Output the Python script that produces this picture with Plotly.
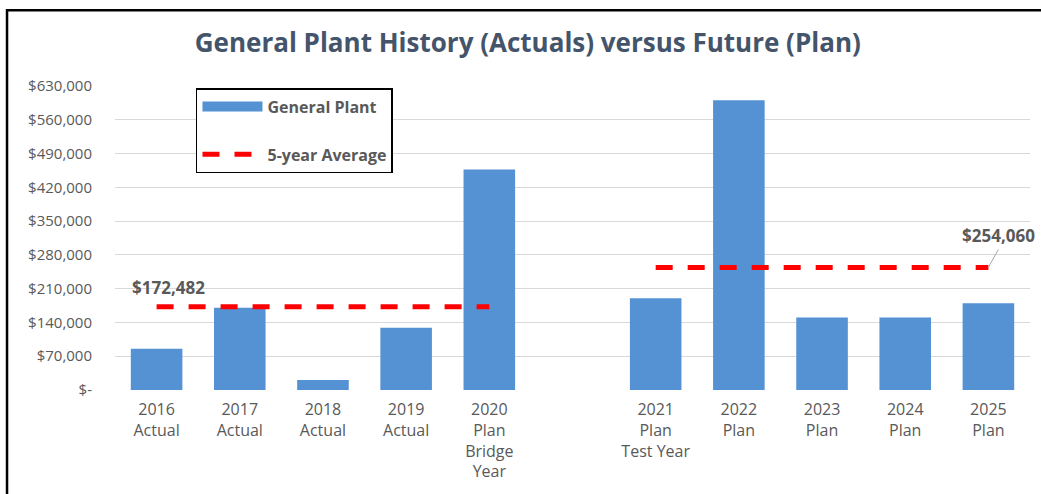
import plotly.graph_objects as go

# categories (blank slot separates history from plan)
categories = [
    "2016<br>Actual", "2017<br>Actual", "2018<br>Actual", "2019<br>Actual",
    "2020<br>Plan<br>Bridge<br>Year", " ",
    "2021<br>Plan<br>Test Year", "2022<br>Plan", "2023<br>Plan", "2024<br>Plan", "2025<br>Plan",
]
general_plant = [85500, 170500, 20500, 129000, 456900, None,
                 190000, 600500, 150000, 150000, 179800]

history_cats = categories[:5]
plan_cats = categories[6:]
history_avg = 172482
plan_avg = 254060

y_ticks = [0, 70000, 140000, 210000, 280000, 350000, 420000, 490000, 560000, 630000]
y_ticktext = ["$-"] + [f"${v:,.0f}" for v in y_ticks[1:]]

BAR_COLOR = "#5592D4"
LINE_COLOR = "#FF0000"
TEXT_COLOR = "#595959"
TITLE_COLOR = "#44546A"
FONT = "Open Sans"
DASH = "17px,15px"

fig = go.Figure()

fig.add_trace(go.Bar(
    x=categories, y=general_plant, name="General Plant",
    marker=dict(color=BAR_COLOR, line=dict(width=0)),
    showlegend=False,
))

# legend-only entry so the swatch is a wide bar like the original
fig.add_trace(go.Scatter(
    x=[None], y=[None], mode="lines", name="<b>General Plant</b>",
    line=dict(color=BAR_COLOR, width=10),
    legendgroup="a",
))

fig.add_trace(go.Scatter(
    x=[history_cats[0], history_cats[-1]], y=[history_avg, history_avg],
    mode="lines", name="<b>5-year Average</b>",
    line=dict(color=LINE_COLOR, width=5, dash=DASH),
    legendgroup="b",
))
fig.add_trace(go.Scatter(
    x=[plan_cats[0], plan_cats[-1]], y=[plan_avg, plan_avg],
    mode="lines", name="5-year Average", showlegend=False,
    line=dict(color=LINE_COLOR, width=5, dash=DASH),
    legendgroup="b",
))

fig.add_annotation(
    x=history_cats[0], y=history_avg, text=f"<b>${history_avg:,.0f}</b>",
    showarrow=False, xanchor="center", yanchor="bottom", xshift=12, yshift=6,
    font=dict(size=17, color=TEXT_COLOR, family=FONT),
)
fig.add_annotation(
    x=plan_cats[-1], y=plan_avg, text=f"<b>${plan_avg:,.0f}</b>",
    showarrow=True, arrowhead=0, arrowwidth=1, arrowcolor="#A6A6A6",
    ax=10, ay=-18, xanchor="center", yanchor="bottom",
    font=dict(size=17, color=TEXT_COLOR, family=FONT),
)

# outer chart frame (right and bottom edges fall outside the view)
fig.add_shape(
    type="rect", xref="paper", yref="paper",
    x0=-0.118, x1=1.03, y0=-0.4, y1=1.245,
    line=dict(color="black", width=2.5), layer="below",
)

fig.update_layout(
    width=1041, height=494,
    margin=dict(l=115, r=11, t=85, b=104),
    paper_bgcolor="white", plot_bgcolor="white",
    title=dict(
        text="<b>General Plant History (Actuals) versus Future (Plan)</b>",
        x=0.507, xref="container", xanchor="center", y=0.913, yanchor="middle",
        font=dict(size=26, color=TITLE_COLOR, family=FONT),
    ),
    bargap=0.38,
    font=dict(family=FONT, color=TEXT_COLOR),
    legend=dict(
        x=0.0885, y=0.99, xanchor="left", yanchor="top",
        bordercolor="black", borderwidth=1.5, bgcolor="white",
        font=dict(size=16, color=TEXT_COLOR, family=FONT),
        tracegroupgap=24, traceorder="grouped",
        itemwidth=60,
    ),
)
fig.update_xaxes(
    type="category", categoryorder="array", categoryarray=categories,
    range=[-0.5, len(categories) - 0.5],
    showgrid=False, showline=False, ticks="",
    tickfont=dict(size=16, color=TEXT_COLOR), ticklabelstandoff=8,
)
fig.update_yaxes(
    range=[0, 632000], tickvals=y_ticks, ticktext=y_ticktext,
    showgrid=True, gridcolor="#D9D9D9", gridwidth=1, zeroline=False,
    tickfont=dict(size=15, color=TEXT_COLOR), ticklabelstandoff=22,
)

fig.write_html(
    "out.html",
    config={"displayModeBar": False},
    post_script="document.body.style.margin='0';",
)
